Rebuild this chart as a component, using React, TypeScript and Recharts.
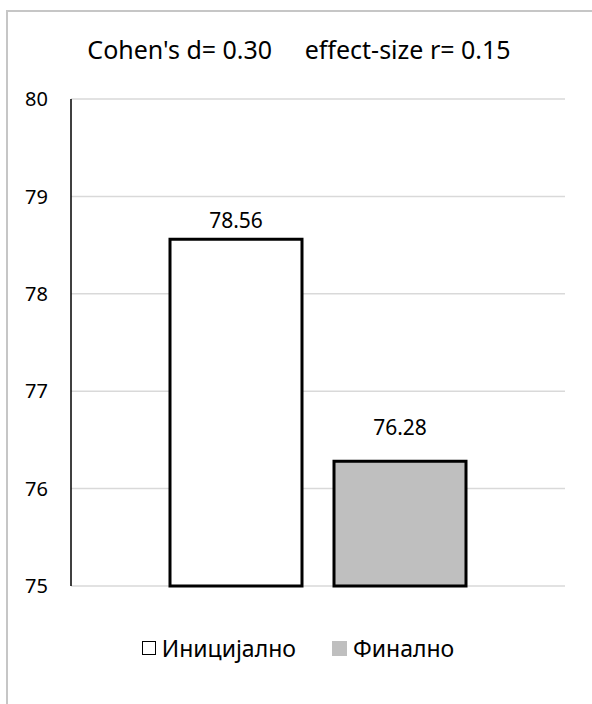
import React from 'react';
import { BarChart, Bar, XAxis, YAxis, CartesianGrid, Legend, LabelList } from 'recharts';

// Chart data
const categories = [''];
const initialValues = [78.56];
const finalValues = [76.28];
const yTicks = [75, 76, 77, 78, 79, 80];
const seriesNames = ['Иницијално', 'Финално'];
const titleText = "Cohen's d= 0.30     effect-size r= 0.15";

const data = categories.map((c, i) => ({
  name: c,
  initial: initialValues[i],
  final: finalValues[i],
}));

const FONT = '"Noto Sans", "Open Sans", sans-serif';

const LegendContent = () => (
  <div
    style={{
      display: 'flex',
      justifyContent: 'center',
      alignItems: 'center',
      fontFamily: FONT,
      fontSize: 23,
      color: '#000',
      paddingLeft: 4,
    }}
  >
    <span style={{ display: 'inline-block', width: 14, height: 14, border: '1.5px solid #000', background: '#fff', marginRight: 6, boxSizing: 'border-box' }} />
    <span style={{ marginRight: 36 }}>{seriesNames[0]}</span>
    <span style={{ display: 'inline-block', width: 15, height: 15, background: '#bfbfbf', marginRight: 6 }} />
    <span>{seriesNames[1]}</span>
  </div>
);

export default function App() {
  return (
    <div style={{ position: 'absolute', left: 0, top: 0, width: 592, height: 704, background: '#fff', overflow: 'hidden' }}>
      <div
        style={{
          position: 'absolute',
          left: 6,
          top: 10,
          width: 620,
          height: 720,
          border: '2px solid #c6c6c6',
        }}
      />
      <div
        style={{
          position: 'absolute',
          left: 0,
          top: 32,
          width: 598,
          textAlign: 'center',
          fontFamily: FONT,
          fontSize: 25,
          whiteSpace: 'pre',
          color: '#000',
        }}
      >
        {titleText}
      </div>
      <div style={{ position: 'absolute', left: 0, top: 0 }}>
        <BarChart
          width={592}
          height={704}
          data={data}
          margin={{ top: 99, right: 27, bottom: 118, left: 0 }}
          barSize={132}
          barGap={32}
        >
          <CartesianGrid vertical={false} stroke="#d9d9d9" strokeWidth={1.5} />
          <XAxis
            dataKey="name"
            height={0}
            tick={false}
            tickLine={false}
            axisLine={{ stroke: '#000', strokeWidth: 2.5 }}
          />
          <YAxis
            width={71}
            domain={[75, 80]}
            ticks={yTicks}
            interval={0}
            tickSize={0}
            tickMargin={23}
            tickLine={false}
            axisLine={{ stroke: '#000', strokeWidth: 1.5 }}
            tick={{ fill: '#000', fontSize: 20, fontFamily: FONT }}
          />
          <Legend
            verticalAlign="middle"
            align="center"
            content={<LegendContent />}
            wrapperStyle={{ top: 632, left: 0, width: 592 }}
          />
          <Bar dataKey="initial" name={seriesNames[0]} fill="#ffffff" stroke="#000" strokeWidth={3} isAnimationActive={false}>
            <LabelList dataKey="initial" position="top" offset={11} style={{ fill: '#000', fontSize: 21, fontFamily: FONT }} />
          </Bar>
          <Bar dataKey="final" name={seriesNames[1]} fill="#bfbfbf" stroke="#000" strokeWidth={3} isAnimationActive={false}>
            <LabelList dataKey="final" position="top" offset={26} style={{ fill: '#000', fontSize: 21, fontFamily: FONT }} />
          </Bar>
        </BarChart>
      </div>
    </div>
  );
}
